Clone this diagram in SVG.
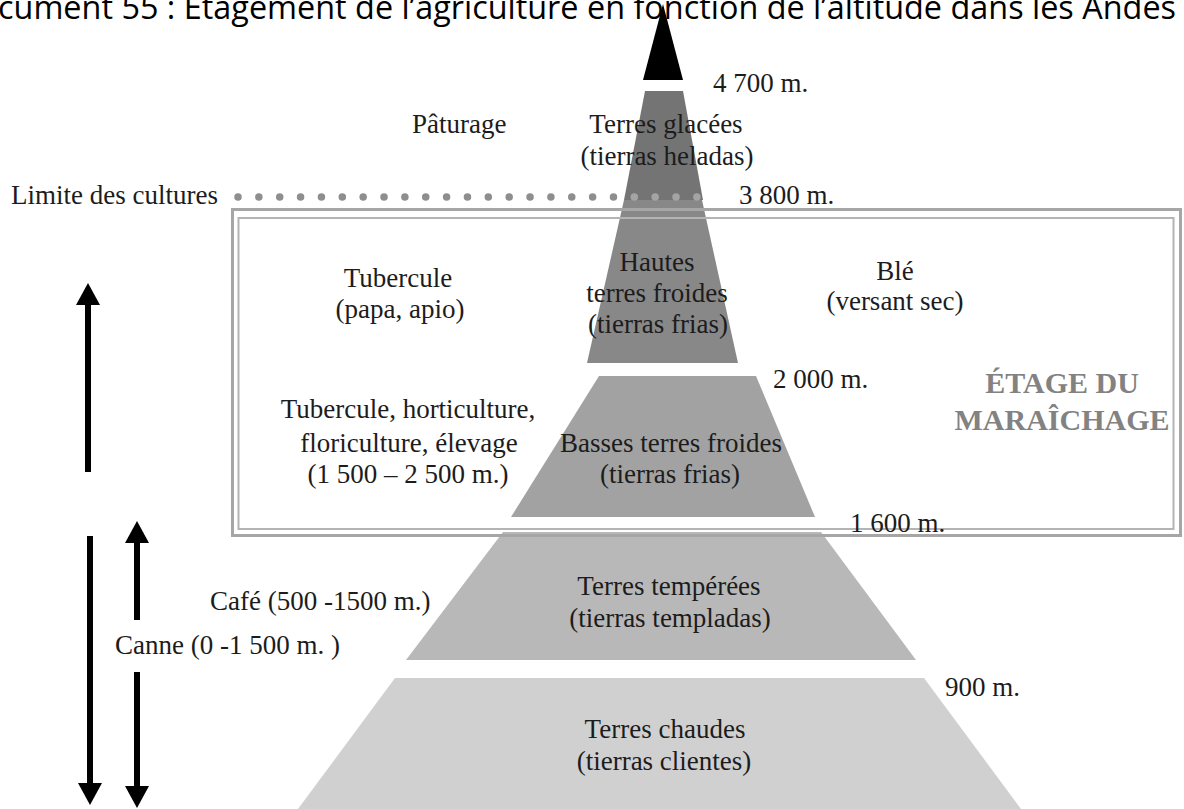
<svg xmlns="http://www.w3.org/2000/svg" width="1184" height="809" viewBox="0 0 1184 809">
<defs>
<style>
.t{font-family:"Liberation Serif","Times New Roman",serif;font-size:27px;fill:#1c1c1c}
.m{text-anchor:middle}
.big{font-family:"Liberation Serif","Times New Roman",serif;font-size:30px;font-weight:bold;fill:#828282;text-anchor:middle}
.title{font-family:"Open Sans","Noto Sans",sans-serif;font-size:32px;fill:#000}
.arr{stroke:#000;stroke-width:6;fill:none}
.dots{stroke-width:7.5;stroke-linecap:round;stroke-dasharray:0 20.86}
</style>
<marker id="ah" markerUnits="userSpaceOnUse" markerWidth="22" markerHeight="24" viewBox="0 0 22 24" refX="0" refY="12" orient="auto">
<path d="M0,0 L22,12 L0,24 z" fill="#000"/>
</marker>
</defs>
<rect width="1184" height="809" fill="#fff"/>

<g id="peak">
<path d="M663,4 L683,80 L643,80 z" fill="#000"/>
</g>
<g id="glacees">
<path d="M645,91 L683,91 L703,200 L624,200 z" fill="#747474"/>
</g>
<g id="hautes">
<path d="M624,200 L702,200 L738,363 L587,363 z" fill="#888"/>
</g>
<g id="basses">
<path d="M599,376 L756,376 L815,517 L511,517 z" fill="#a2a2a2"/>
</g>
<g id="temperees">
<path d="M503,532 L821,532 L916,660 L406,660 z" fill="#b8b8b8"/>
</g>
<g id="chaudes">
<path d="M395,678 L924,678 L1021,809 L298,809 z" fill="#d0d0d0"/>
</g>

<g id="limite">
<line class="dots" x1="238" y1="197" x2="615" y2="197" stroke="#8e8e8e"/>
<line class="dots" x1="634.3" y1="197" x2="698" y2="197" stroke="#a4a4a4"/>
<text class="t" x="11" y="204">Limite des cultures</text>
<text class="t" x="739" y="204">3 800 m.</text>
</g>

<g id="etage-maraichage">
<rect x="232.5" y="209.5" width="948" height="326" fill="none" stroke="#a6a6a6" stroke-width="3"/>
<rect x="238.5" y="218" width="935" height="311" fill="none" stroke="#b4b4b4" stroke-width="2"/>
<text class="big" x="1062" y="393">ÉTAGE DU</text>
<text class="big" x="1062" y="430">MARAÎCHAGE</text>
</g>

<g id="title">
<text class="title" x="-2" y="19" textLength="1178" lengthAdjust="spacingAndGlyphs">cument 55 : Étagement de l’agriculture en fonction de l’altitude dans les Andes</text>
</g>

<g id="labels-peak">
<text class="t" x="713" y="92">4 700 m.</text>
<text class="t" x="412" y="133">Pâturage</text>
<text class="t m" x="666" y="133">Terres glacées</text>
<text class="t m" x="667" y="165">(tierras heladas)</text>
</g>

<g id="labels-hautes">
<text class="t m" x="657" y="271">Hautes</text>
<text class="t m" x="657" y="302">terres froides</text>
<text class="t m" x="658" y="333">(tierras frias)</text>
<text class="t m" x="398" y="287">Tubercule</text>
<text class="t m" x="400" y="318">(papa, apio)</text>
<text class="t m" x="895" y="280">Blé</text>
<text class="t m" x="895" y="310">(versant sec)</text>
<text class="t" x="773" y="388">2 000 m.</text>
</g>

<g id="labels-basses">
<text class="t m" x="408" y="418">Tubercule, horticulture,</text>
<text class="t m" x="409" y="452">floriculture, élevage</text>
<text class="t m" x="408" y="483">(1 500 – 2 500 m.)</text>
<text class="t m" x="671" y="452">Basses terres froides</text>
<text class="t m" x="670" y="483">(tierras frias)</text>
<text class="t" x="850" y="532">1 600 m.</text>
</g>

<g id="labels-temperees">
<text class="t m" x="669" y="595">Terres tempérées</text>
<text class="t m" x="670" y="627">(tierras templadas)</text>
<text class="t" x="210" y="610">Café (500 -1500 m.)</text>
<text class="t" x="115" y="654">Canne (0 -1 500 m. )</text>
<text class="t" x="945" y="696">900 m.</text>
</g>

<g id="labels-chaudes">
<text class="t m" x="665" y="738">Terres chaudes</text>
<text class="t m" x="664" y="770">(tierras clientes)</text>
</g>

<g id="connectors">
<line class="arr" x1="88" y1="472" x2="88" y2="305" marker-end="url(#ah)"/>
<line class="arr" x1="90" y1="536" x2="90" y2="783" marker-end="url(#ah)"/>
<line class="arr" x1="137" y1="620" x2="137" y2="543" marker-end="url(#ah)"/>
<line class="arr" x1="137" y1="672" x2="137" y2="786" marker-end="url(#ah)"/>
</g>
</svg>
